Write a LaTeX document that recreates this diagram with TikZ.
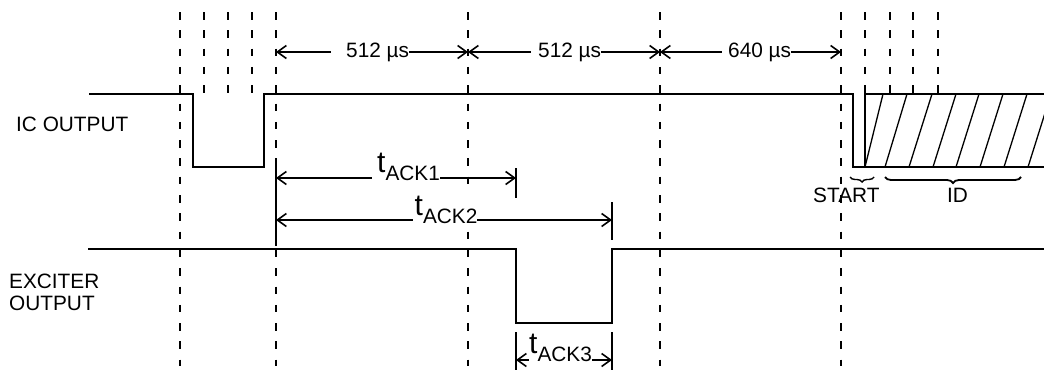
\documentclass[tikz,border=0pt]{standalone}
\usepackage{fontspec}
\setmainfont{Liberation Sans}
\usetikzlibrary{arrows.meta,decorations.pathreplacing}
\begin{document}
\begin{tikzpicture}[x=1pt,y=-1pt,
  sig/.style={line width=2pt},
  gridline/.style={line width=2pt, dash pattern=on 7.5pt off 10.8pt},
  tick/.style={line width=1.6pt},
  hatch/.style={line width=1.3pt},
  barb/.tip={Straight Barb[length=9pt,width=13pt,line width=1.6pt]},
  dim/.style={line width=1.3pt, barb-barb},
  lbl/.style={font=\fontsize{20.8}{23}\selectfont, inner sep=0pt},
  cover/.style={lbl, fill=white, inner ysep=1pt},
  brc/.style={line width=1.4pt, decorate, decoration={brace, mirror, amplitude=6pt}},
]
\useasboundingbox (0,0) rectangle (1044,370);
\newcommand{\tk}[1]{{\fontsize{30}{30}\selectfont t}\raisebox{-8.5pt}{#1}}

% ---- grid coordinates
\foreach \n/\x in {a/180,b/276,c/468,d/660,e/841}{
  \coordinate (\n top) at (\x,12);
  \coordinate (\n bot) at (\x,366);
}
\foreach \n/\x in {s1/204,s2/228,s3/252,s4/865,s5/890,s6/913,s7/938}{
  \coordinate (\n top) at (\x,12);
  \coordinate (\n bot) at (\x,95);
}
\foreach \n in {a,b,c,d,e,s1,s2,s3,s4,s5,s6,s7}{
  \draw[gridline] (\n top) -- (\n bot);
}

% ---- IC output waveform
\draw[sig] (89,94) -- (193,94) -- (193,167) -- (264,167) -- (264,94)
  -- (853,94) -- (853,167) -- (865,167) -- (865,94) -- (1044,94);
\draw[sig] (865,167) -- (1044,167);
\begin{scope}
  \clip (865,94) rectangle (1044,167);
  \foreach \xb/\xt in {865/883,885/907,909/932,933/956,956/979,980/1003,1004/1027,1028/1051}{
    \draw[hatch] (\xb,167) -- (\xt,94);
  }
\end{scope}

% ---- exciter output waveform
\draw[sig] (88,249) -- (516,249) -- (516,323) -- (612,323) -- (612,249) -- (1044,249);

% ---- ticks
\coordinate (k0a) at (276,163); \coordinate (k0b) at (276,246);
\coordinate (k1a) at (516,168); \coordinate (k1b) at (516,198);
\coordinate (k2a) at (612,202); \coordinate (k2b) at (612,240);
\coordinate (k3a) at (516,332); \coordinate (k3b) at (516,370);
\coordinate (k4a) at (612,332); \coordinate (k4b) at (612,370);
\foreach \k in {k0,k1,k2,k3,k4}{ \draw[tick] (\k a) -- (\k b); }

% ---- timing arrows (top)
\coordinate (p1) at (276,52); \coordinate (p2) at (468,52);
\coordinate (p3) at (660,52); \coordinate (p4) at (841,52);
\draw[dim] (p1) -- (p2);
\draw[dim] (p2) -- (p3);
\draw[dim] (p3) -- (p4);
\node[cover, anchor=base west] (m1) at (331,57) {\hspace{15pt}512 µs};
\node[cover, anchor=base west] (m2) at (531,57) {\hspace{7pt}512 µs};
\node[cover, anchor=base west] (m3) at (722,57) {\hspace{6pt}640 µs};

% ---- tACK arrows
\coordinate (q1) at (276,178); \coordinate (q2) at (516,178);
\coordinate (r1) at (276,220); \coordinate (r2) at (612,220);
\coordinate (u1) at (516,360); \coordinate (u2) at (612,360);
\draw[dim] (q1) -- (q2);
\draw[dim] (r1) -- (r2);
\draw[dim] (u1) -- (u2);
\node[cover, anchor=base west] (ack1) at (372,172) {\hspace{5pt}\tk{ACK1}\hspace{3pt}};
\node[cover, anchor=base west] (ack2) at (413,215) {\hspace{1.5pt}\tk{ACK2}\hspace{2pt}};
\node[cover, anchor=base west] (ack3) at (529,353) {\tk{ACK3}};

% ---- START / ID
\coordinate (bs1) at (850,177); \coordinate (bs2) at (874,177);
\coordinate (bi1) at (885,177); \coordinate (bi2) at (1021,177);
\draw[brc, decoration={amplitude=5pt}] (bs1) -- (bs2);
\draw[brc, line width=1.8pt] (bi1) -- (bi2);
\node[lbl, anchor=base west] (start) at (813,202) {START};
\node[lbl, anchor=base west] (id) at (947,202) {ID};

% ---- row labels
\node[lbl, anchor=base west] (ic) at (16,131) {IC OUTPUT};
\node[lbl, anchor=base west] (ex1) at (9,288) {EXCITER};
\node[lbl, anchor=base west] (ex2) at (9,310) {OUTPUT};
\end{tikzpicture}
\end{document}
